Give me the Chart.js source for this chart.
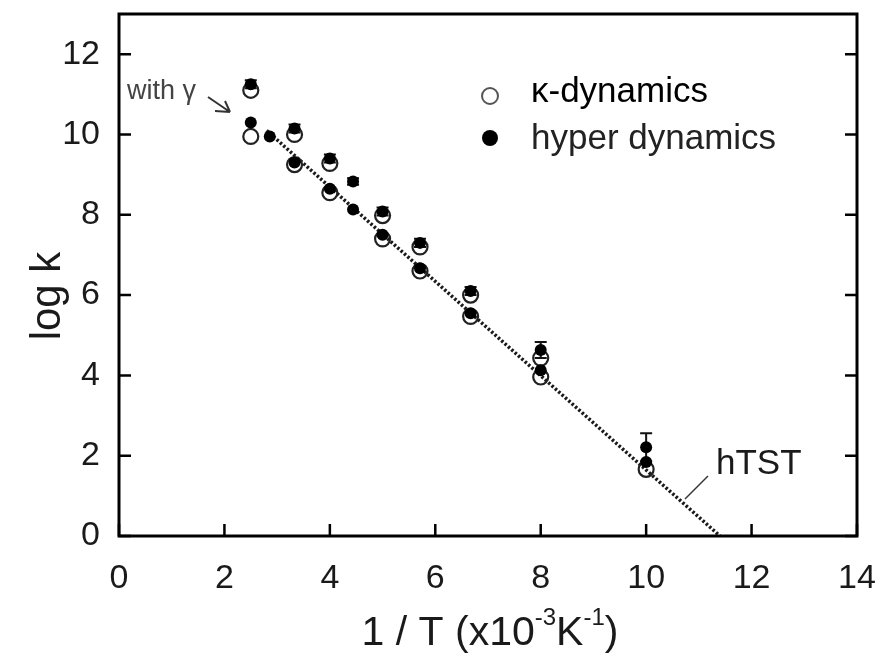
<!DOCTYPE html>
<html>
<head>
<meta charset="utf-8">
<script src="https://cdn.jsdelivr.net/npm/chart.js@4/dist/chart.umd.min.js"></script>
<style>
  html, body { margin: 0; padding: 0; background: #fff; }
  #wrap { width: 893px; height: 662px; }
</style>
</head>
<body>
<div id="wrap"><canvas id="c" width="893" height="662"></canvas></div>
<script>
// ---- data ----
const xKappa      = [2.5, 3.33, 4, 5, 5.71, 6.67, 8, 10];
const kappaLow    = [9.95, 9.25, 8.55, 7.4, 6.6, 5.47, 3.96, 1.66];
const xKappaG     = [2.5, 3.33, 4, 5, 5.71, 6.67, 8];
const kappaGamma  = [11.1, 10.0, 9.28, 7.98, 7.2, 6.0, 4.43];
const xHyper      = [2.5, 2.86, 3.33, 4, 4.44, 5, 5.71, 6.67, 8, 10];
const hyperLow    = [10.3, 9.95, 9.3, 8.65, 8.13, 7.5, 6.67, 5.55, 4.13, 1.84];
const xHyperG     = [2.5, 3.33, 4, 4.44, 5, 5.71, 6.67, 8, 10];
const hyperGamma  = [11.25, 10.15, 9.4, 8.83, 8.08, 7.3, 6.1, 4.63, 2.21];
const hyperGammaErr = [0.1, 0.1, 0.1, 0.08, 0.1, 0.1, 0.1, 0.2, 0.35];
const hTSTx = [2.8, 11.4];
const hTSTy = [10.1, 0];
const xTicks = [0, 2, 4, 6, 8, 10, 12, 14];
const yTicks = [0, 2, 4, 6, 8, 10, 12];
const legendLabels = ['κ-dynamics', 'hyper dynamics'];

const pts = (xs, ys) => xs.map((x, i) => ({x: x, y: ys[i]}));
const FONT = '"Liberation Sans", Arial, Helvetica, sans-serif';

const decor = {
  id: 'decor',
  beforeDatasetsDraw(chart) {
    const ctx = chart.ctx, xs = chart.scales.x, ys = chart.scales.y;
    ctx.save();
    ctx.strokeStyle = '#111';
    ctx.lineWidth = 2;
    xHyperG.forEach((x, i) => {
      const px = xs.getPixelForValue(x);
      const y1 = ys.getPixelForValue(hyperGamma[i] + hyperGammaErr[i]);
      const y2 = ys.getPixelForValue(hyperGamma[i] - hyperGammaErr[i]);
      ctx.beginPath();
      ctx.moveTo(px, y1); ctx.lineTo(px, y2);
      ctx.moveTo(px - 6, y1); ctx.lineTo(px + 6, y1);
      ctx.moveTo(px - 6, y2); ctx.lineTo(px + 6, y2);
      ctx.stroke();
    });
    ctx.restore();
  },
  afterDraw(chart) {
    const ctx = chart.ctx, a = chart.chartArea, xs = chart.scales.x, ys = chart.scales.y;
    ctx.save();
    // frame
    ctx.strokeStyle = '#000';
    ctx.lineWidth = 3;
    ctx.strokeRect(a.left, a.top, a.right - a.left, a.bottom - a.top);
    // inward ticks
    ctx.lineWidth = 2.5;
    ctx.beginPath();
    xs.ticks.forEach(t => {
      const px = xs.getPixelForValue(t.value);
      ctx.moveTo(px, a.bottom); ctx.lineTo(px, a.bottom - 12);
    });
    ys.ticks.forEach(t => {
      const py = ys.getPixelForValue(t.value);
      ctx.moveTo(a.left, py); ctx.lineTo(a.left + 12, py);
      ctx.moveTo(a.right, py); ctx.lineTo(a.right - 12, py);
    });
    ctx.stroke();

    // axis titles
    ctx.fillStyle = '#1a1a1a';
    ctx.textBaseline = 'alphabetic';
    ctx.save();
    ctx.translate(60, 296);
    ctx.rotate(-Math.PI / 2);
    ctx.textAlign = 'center';
    ctx.font = '42px ' + FONT;
    ctx.fillText('log k', 0, 0);
    ctx.restore();

    // x title with superscripts
    const parts = [['1 / T (x10', false], ['-3', true], ['K', false], ['-1', true], [')', false]];
    const big = '41px ' + FONT, small = '24px ' + FONT;
    let w = 0;
    parts.forEach(p => { ctx.font = p[1] ? small : big; w += ctx.measureText(p[0]).width; });
    let cx = 490 - w / 2;
    const base = 645;
    ctx.textAlign = 'left';
    parts.forEach(p => {
      ctx.font = p[1] ? small : big;
      ctx.fillText(p[0], cx, p[1] ? base - 20 : base);
      cx += ctx.measureText(p[0]).width;
    });

    // legend
    ctx.lineWidth = 2;
    ctx.strokeStyle = '#555';
    ctx.beginPath(); ctx.arc(490, 96, 8, 0, Math.PI * 2); ctx.stroke();
    ctx.fillStyle = '#000';
    ctx.beginPath(); ctx.arc(490, 138, 8, 0, Math.PI * 2); ctx.fill();
    ctx.font = '35px ' + FONT;
    ctx.fillStyle = '#000';
    ctx.fillText(legendLabels[0], 531, 102);
    ctx.fillStyle = '#222';
    ctx.fillText(legendLabels[1], 531, 149);

    // annotations
    ctx.fillStyle = '#444';
    ctx.font = '27px ' + FONT;
    ctx.fillText('with γ', 127, 99);
    ctx.strokeStyle = '#333';
    ctx.lineWidth = 2;
    ctx.beginPath();
    ctx.moveTo(208, 97); ctx.lineTo(230, 112);
    ctx.moveTo(230, 112); ctx.lineTo(215, 111);
    ctx.moveTo(230, 112); ctx.lineTo(225, 101);
    ctx.stroke();

    ctx.fillStyle = '#1a1a1a';
    ctx.font = '35px ' + FONT;
    ctx.fillText('hTST', 716, 474);
    ctx.strokeStyle = '#333';
    ctx.lineWidth = 1.5;
    ctx.beginPath(); ctx.moveTo(708, 476); ctx.lineTo(685, 499); ctx.stroke();
    ctx.restore();
  }
};

new Chart(document.getElementById('c'), {
  type: 'scatter',
  data: {
    datasets: [
      { label: legendLabels[1], data: pts(xHyperG, hyperGamma), pointRadius: 6, pointBackgroundColor: '#000', pointBorderColor: '#000', pointBorderWidth: 0, order: 0 },
      { label: legendLabels[1], data: pts(xHyper, hyperLow), pointRadius: 6, pointBackgroundColor: '#000', pointBorderColor: '#000', pointBorderWidth: 0, order: 0 },
      { label: legendLabels[0], data: pts(xKappaG, kappaGamma), pointRadius: 7.5, pointBackgroundColor: 'rgba(255,255,255,0)', pointBorderColor: '#222', pointBorderWidth: 2.2, order: 1 },
      { label: legendLabels[0], data: pts(xKappa, kappaLow), pointRadius: 7.5, pointBackgroundColor: 'rgba(255,255,255,0)', pointBorderColor: '#222', pointBorderWidth: 2.2, order: 1 },
      { label: 'hTST', type: 'line', data: pts(hTSTx, hTSTy), showLine: true, borderColor: '#1a1a1a', borderWidth: 3.5, borderDash: [2.5, 2], pointRadius: 0, order: 2 }
    ]
  },
  options: {
    responsive: false,
    animation: false,
    events: [],
    layout: { padding: { left: 0, right: 36, top: 14, bottom: 0 } },
    plugins: { legend: { display: false }, tooltip: { enabled: false } },
    scales: {
      x: {
        type: 'linear', min: 0, max: 14,
        afterBuildTicks: s => { s.ticks = xTicks.map(v => ({value: v})); },
        afterFit: s => { s.height = 126; s.paddingLeft = 0; s.paddingRight = 0; },
        grid: { display: false, drawTicks: false },
        border: { display: false },
        ticks: { padding: 22, color: '#1a1a1a', font: { family: FONT, size: 34 }, maxRotation: 0, autoSkip: false }
      },
      y: {
        type: 'linear', min: 0, max: 13,
        afterBuildTicks: s => { s.ticks = yTicks.map(v => ({value: v})); },
        afterFit: s => { s.width = 119; s.paddingTop = 0; s.paddingBottom = 0; },
        grid: { display: false, drawTicks: false },
        border: { display: false },
        ticks: { padding: 19, color: '#1a1a1a', font: { family: FONT, size: 34 } }
      }
    }
  },
  plugins: [decor]
});
</script>
</body>
</html>
